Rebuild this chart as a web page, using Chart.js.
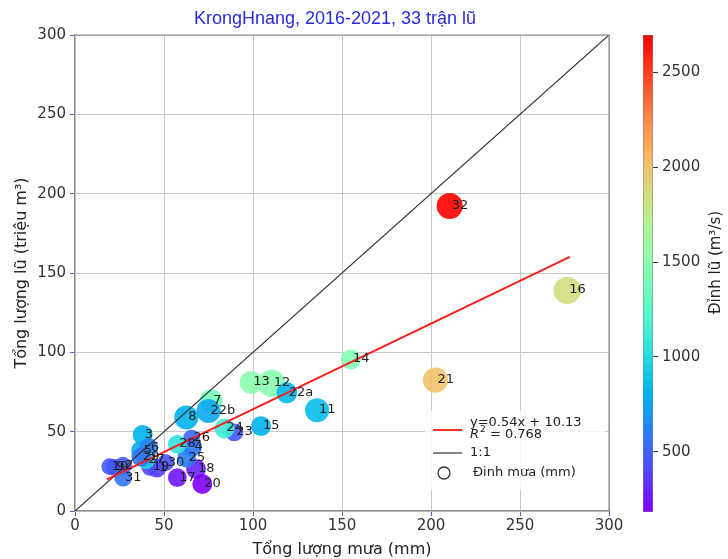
<!DOCTYPE html>
<html><head><meta charset="utf-8">
<script src="https://cdn.jsdelivr.net/npm/chart.js@4.4.1/dist/chart.umd.min.js"></script>
<style>
html,body{margin:0;padding:0;background:#fff;}
#wrap{position:relative;width:728px;height:559px;background:#fff;}
canvas{position:absolute;left:0;top:0;}
</style></head><body>
<div id="wrap"><canvas id="main" width="728" height="559"></canvas><canvas id="cbar" width="728" height="559"></canvas></div>
<script>
// ---- data ----
const floodLabels = ['1','2','3','4','5','6','7','8','9','10','11','12','13','14','15','16','17','18','19','20','21','22a','22b','23','24','25','26','27','28','29','30','31','32'];
const rainTotal   = [46,27,38,66,37.5,41.5,76.5,62.5,22,19.5,136,110.5,99,155,104.5,276.5,57.5,68,42.5,71.5,202.5,119,75,89.5,84,62.7,65.5,40,57.5,37,51,27,210.5];
const floodVolume = [27,28.5,48,40.3,38,40,69.5,59,27.5,28,63.5,80.5,81,95.5,53.5,139,21,26.5,28,17,82.5,74.5,63,49.5,52,33.4,46,32,42,34,30.5,21,192.2];
const peakFlow    = [380,480,810,560,760,620,1380,800,430,470,850,1480,1500,1450,810,1850,250,290,420,184,2000,830,760,470,1120,600,520,950,1050,560,450,560,2695];
const rainPeak    = [67,60,75,67,83,67,100,109,53,53,109,140,100,75,75,140,67,75,67,75,119,83,109,60,75,67,53,60,67,67,53,60,129];
const xTicks  = [0,50,100,150,200,250,300];
const yTicks  = [0,50,100,150,200,250,300];
const cbTicks = [500,1000,1500,2000,2500];
const cbRange = [184, 2695];
const oneToOneX = [0, 300];
const oneToOneY = [0, 300];
const fitLineX = [18, 278];
const fitLineY = [19.9, 160.2];
const titleText = 'KrongHnang, 2016-2021, 33 trận lũ';
const xTitle = 'Tổng lượng mưa (mm)';
const yTitle = 'Tổng lượng lũ (triệu m³)';
const cbTitle = 'Đỉnh lũ (m³/s)';
const fitText = 'y=0.54x + 10.13';
const r2Value = '0.768';
const oneText = '1:1';
const sizeText = 'Đinh mưa (mm)';

// ---- helpers ----
function rainbow(t){
  t = Math.min(1, Math.max(0, t));
  const r = Math.min(1, Math.abs(2*t - 0.5));
  const g = Math.sin(Math.PI*t);
  const b = Math.cos(Math.PI*t/2);
  return [Math.round(r*255), Math.round(g*255), Math.round(b*255)];
}
function colorOf(v, a){
  const c = rainbow((v - cbRange[0])/(cbRange[1]-cbRange[0]));
  return 'rgba(' + c[0] + ',' + c[1] + ',' + c[2] + ',' + a + ')';
}
function sizeOf(p){ return Math.sqrt(p)*1.15; }

const FONT = 'DejaVu Sans';
const frameColor = '#8a8a8a';

const labelPlugin = {
  id: 'pointLabels',
  afterDatasetsDraw(chart){
    const ctx = chart.ctx;
    const meta = chart.getDatasetMeta(2);
    ctx.save();
    ctx.font = '13px "' + FONT + '"';
    ctx.fillStyle = '#1e1e1e';
    ctx.textAlign = 'left';
    ctx.textBaseline = 'alphabetic';
    meta.data.forEach((el, i) => {
      ctx.fillText(floodLabels[i], el.x + 2, el.y + 3);
    });
    ctx.restore();
  }
};

const legendPlugin = {
  id: 'legendBox',
  afterDatasetsDraw(chart){
    const {ctx, chartArea: a} = chart;
    ctx.save();
    ctx.fillStyle = 'rgba(255,255,255,0.8)';
    ctx.fillRect(a.right - 184, a.bottom - 101, 180, 80);
    ctx.strokeStyle = '#ff1a1a'; ctx.lineWidth = 1.8;
    ctx.beginPath(); ctx.moveTo(a.right - 176, a.bottom - 81); ctx.lineTo(a.right - 147, a.bottom - 81); ctx.stroke();
    ctx.strokeStyle = '#333'; ctx.lineWidth = 1.2;
    ctx.beginPath(); ctx.moveTo(a.right - 176, a.bottom - 58); ctx.lineTo(a.right - 147, a.bottom - 58); ctx.stroke();
    ctx.lineWidth = 1.3; ctx.strokeStyle = '#333';
    ctx.beginPath(); ctx.arc(a.right - 165, a.bottom - 38, 6, 0, Math.PI*2); ctx.stroke();
    ctx.fillStyle = '#222';
    ctx.textBaseline = 'middle'; ctx.textAlign = 'left';
    ctx.font = '13px "' + FONT + '"';
    const tx = a.right - 139;
    ctx.fillText(fitText, tx, a.bottom - 88);
    ctx.font = 'italic 13px "' + FONT + '"';
    ctx.fillText('R', tx, a.bottom - 76);
    let w = ctx.measureText('R').width;
    ctx.font = '9px "' + FONT + '"';
    ctx.fillText('2', tx + w + 1, a.bottom - 81);
    w += ctx.measureText('2').width + 1;
    ctx.font = '13px "' + FONT + '"';
    ctx.fillText(' = ' + r2Value, tx + w, a.bottom - 76);
    ctx.fillText(oneText, tx, a.bottom - 58);
    ctx.fillText(sizeText, a.right - 136, a.bottom - 38);
    ctx.restore();
  }
};

const framePlugin = {
  id: 'frame',
  afterDraw(chart){
    const {ctx, chartArea: a} = chart;
    ctx.save();
    ctx.strokeStyle = frameColor; ctx.lineWidth = 1.2;
    ctx.beginPath();
    ctx.moveTo(a.left, a.top); ctx.lineTo(a.right, a.top); ctx.lineTo(a.right, a.bottom);
    ctx.stroke();
    ctx.fillStyle = '#2b2bd9';
    ctx.font = '18px "Liberation Sans"';
    ctx.textAlign = 'center'; ctx.textBaseline = 'middle';
    ctx.fillText(titleText, (a.left + a.right)/2 - 7, 19);
    ctx.restore();
  }
};

new Chart(document.getElementById('main'), {
  type: 'bubble',
  data: { datasets: [
    { type:'line', label:'fit', data: fitLineX.map((x,i)=>({x:x, y:fitLineY[i]})), borderColor:'#ff1a1a', borderWidth:1.8, pointRadius:0, fill:false, order:0 },
    { type:'line', label:'1:1', data: oneToOneX.map((x,i)=>({x:x, y:oneToOneY[i]})), borderColor:'#333', borderWidth:1.2, pointRadius:0, fill:false, order:0 },
    { type:'bubble', label:'floods', data: floodLabels.map((l,i)=>({x:rainTotal[i], y:floodVolume[i], r:sizeOf(rainPeak[i])})),
      backgroundColor: peakFlow.map(v=>colorOf(v,0.9)), borderWidth:0, hoverRadius:0, order:1 }
  ]},
  options: {
    responsive:false, animation:false, events:[],
    layout:{ padding:{ left:0, right:119, top:35, bottom:0 } },
    plugins:{ legend:{display:false}, tooltip:{enabled:false}, title:{display:false} },
    scales:{
      x:{ type:'linear', min:0, max:300,
        afterBuildTicks: s => { s.ticks = xTicks.map(v=>({value:v})); },
        afterFit: s => { s.height = 48; s.paddingLeft = 0; s.paddingRight = 0; },
        grid:{ color:'#c8c8c8', tickColor:'#5a5ad0', tickLength:5, lineWidth:1 },
        border:{ color:frameColor, width:1.2 },
        ticks:{ font:{family:FONT, size:15}, color:'#333', padding:1, maxRotation:0, callback: v => String(v) },
        title:{ display:true, text:xTitle, font:{family:FONT, size:16}, color:'#222', padding:{top:0, bottom:0} }
      },
      y:{ type:'linear', min:0, max:300,
        afterBuildTicks: s => { s.ticks = yTicks.map(v=>({value:v})); },
        afterFit: s => { s.width = 75; s.paddingTop = 0; s.paddingBottom = 0; },
        grid:{ color:'#c8c8c8', tickColor:'#5a5ad0', tickLength:5, lineWidth:1 },
        border:{ color:frameColor, width:1.2 },
        ticks:{ font:{family:FONT, size:15}, color:'#333', padding:4, callback: v => String(v) },
        title:{ display:true, text:yTitle, font:{family:FONT, size:16}, color:'#222', padding:{top:12, bottom:0} }
      }
    }
  },
  plugins:[labelPlugin, legendPlugin, framePlugin]
});

const cbTitlePlugin = {
  id: 'cbTitle',
  afterDraw(chart){
    const {ctx, chartArea: a} = chart;
    ctx.save();
    ctx.translate(a.right + 63, (a.top + a.bottom)/2 - 11);
    ctx.rotate(-Math.PI/2);
    ctx.font = '15px "' + FONT + '"';
    ctx.fillStyle = '#222';
    ctx.textAlign = 'center'; ctx.textBaseline = 'middle';
    ctx.fillText(cbTitle, 0, 0);
    ctx.restore();
  }
};

new Chart(document.getElementById('cbar'), {
  type: 'bar',
  data: { labels:[''], datasets:[{
    data:[cbRange],
    backgroundColor: (c) => {
      const a = c.chart.chartArea;
      if (!a) return '#888';
      const g = c.chart.ctx.createLinearGradient(0, a.bottom, 0, a.top);
      for (let i = 0; i <= 40; i++) {
        const t = i/40; const col = rainbow(t);
        g.addColorStop(t, 'rgb(' + col[0] + ',' + col[1] + ',' + col[2] + ')');
      }
      return g;
    },
    borderColor:'#777', borderWidth:0.8, borderSkipped:false,
    categoryPercentage:1, barPercentage:1
  }]},
  options: {
    responsive:false, animation:false, events:[],
    layout:{ padding:{ left:643, right:0, top:35, bottom:47 } },
    plugins:{ legend:{display:false}, tooltip:{enabled:false} },
    scales:{
      x:{ display:false },
      y:{ position:'right', min:cbRange[0], max:cbRange[1],
        afterBuildTicks: s => { s.ticks = cbTicks.map(v=>({value:v})); },
        afterFit: s => { s.width = 75; s.paddingTop = 0; s.paddingBottom = 0; },
        grid:{ drawOnChartArea:false, tickLength:5, tickColor:'#333' },
        border:{ display:false },
        ticks:{ font:{family:FONT, size:15}, color:'#333', padding:4, callback: v => String(v) }
      }
    }
  },
  plugins:[cbTitlePlugin]
});
</script>
</body></html>
